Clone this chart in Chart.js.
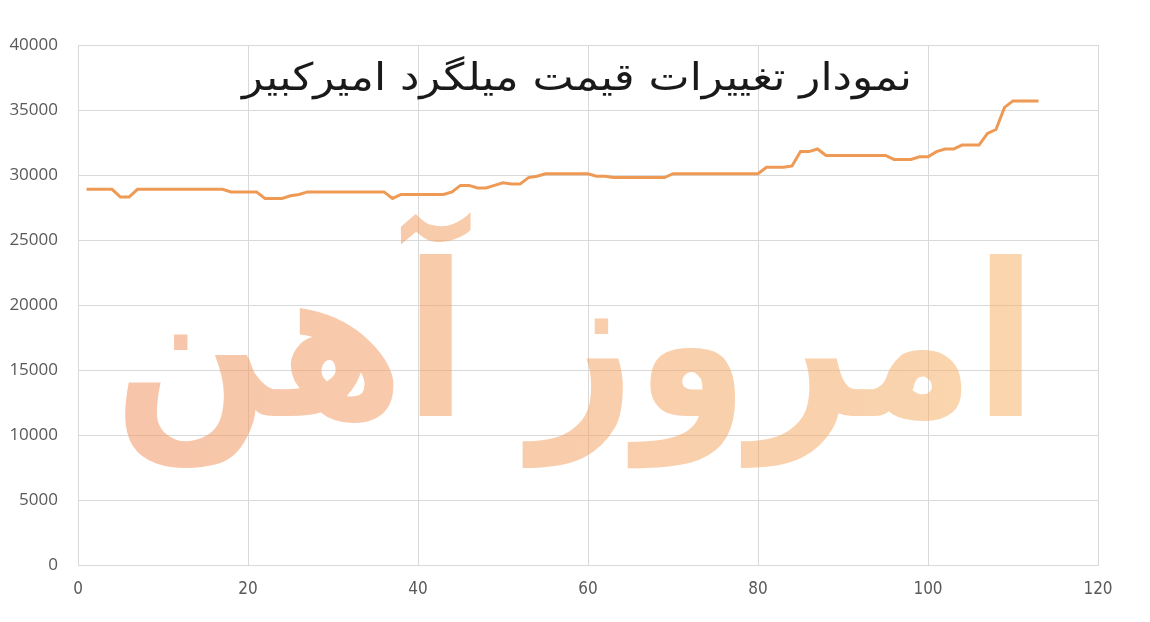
<!DOCTYPE html>
<html>
<head>
<meta charset="utf-8">
<script src="https://cdn.jsdelivr.net/npm/chart.js@4/dist/chart.umd.min.js"></script>
<style>
  body { margin: 0; background: #ffffff; }
  #wrap { width: 1150px; height: 622px; }
</style>
</head>
<body>
<div id="wrap"><canvas id="canvas" width="1150" height="622"></canvas></div>
<script>
// chart title and watermark text
var chartTitle = "نمودار تغییرات قیمت میلگرد امیرکبیر";
var watermarkText = "امروز آهن";

// day number (x axis)
var days = [
  1, 2, 3, 4, 5, 6, 7, 8, 9, 10,
  11, 12, 13, 14, 15, 16, 17, 18, 19, 20,
  21, 22, 23, 24, 25, 26, 27, 28, 29, 30,
  31, 32, 33, 34, 35, 36, 37, 38, 39, 40,
  41, 42, 43, 44, 45, 46, 47, 48, 49, 50,
  51, 52, 53, 54, 55, 56, 57, 58, 59, 60,
  61, 62, 63, 64, 65, 66, 67, 68, 69, 70,
  71, 72, 73, 74, 75, 76, 77, 78, 79, 80,
  81, 82, 83, 84, 85, 86, 87, 88, 89, 90,
  91, 92, 93, 94, 95, 96, 97, 98, 99, 100,
  101, 102, 103, 104, 105, 106, 107, 108, 109, 110,
  111, 112, 113
];

// price
var prices = [
  28900, 28900, 28900, 28900, 28300, 28300, 28900, 28900, 28900, 28900,
  28900, 28900, 28900, 28900, 28900, 28900, 28900, 28700, 28700, 28700,
  28700, 28200, 28200, 28200, 28400, 28500, 28700, 28700, 28700, 28700,
  28700, 28700, 28700, 28700, 28700, 28700, 28200, 28500, 28500, 28500,
  28500, 28500, 28500, 28700, 29200, 29200, 29000, 29000, 29200, 29400,
  29300, 29300, 29800, 29900, 30100, 30100, 30100, 30100, 30100, 30100,
  29900, 29900, 29800, 29800, 29800, 29800, 29800, 29800, 29800, 30100,
  30100, 30100, 30100, 30100, 30100, 30100, 30100, 30100, 30100, 30100,
  30600, 30600, 30600, 30700, 31800, 31800, 32000, 31500, 31500, 31500,
  31500, 31500, 31500, 31500, 31500, 31200, 31200, 31200, 31400, 31400,
  31800, 32000, 32000, 32300, 32300, 32300, 33200, 33500, 35200, 35700,
  35700, 35700, 35700
];

// axis ranges
var xTicks = { min: 0, max: 120, step: 20 };
var yTicks = { min: 0, max: 40000, step: 5000 };

var points = [];
for (var i = 0; i < days.length; i++) {
  points.push({ x: days[i], y: prices[i] });
}

/* draws the logo text behind the line, over the grid.
   drawn opaque on its own canvas first so joined letters don't overlap darker */
var watermarkPlugin = {
  id: "watermark",
  beforeDatasetsDraw: function(chart) {
    var off = document.createElement("canvas");
    off.width = chart.width;
    off.height = chart.height;
    var octx = off.getContext("2d");
    octx.font = 'bold 200px "DejaVu Sans"';
    octx.textAlign = "center";
    octx.textBaseline = "alphabetic";
    var m = octx.measureText(watermarkText);
    var L = m.actualBoundingBoxLeft, R = m.actualBoundingBoxRight;
    var A = m.actualBoundingBoxAscent, D = m.actualBoundingBoxDescent;
    var w = L + R, h = A + D;
    // box the logo sits in
    var bx = 125, by = 212, bw = 897, bh = 256;
    octx.translate(bx + bw / 2, by + bh / 2);
    octx.scale(bw / w, bh / h);
    var grad = octx.createLinearGradient(-w / 2, 0, w / 2, 0);
    grad.addColorStop(0, "rgb(241,150,100)");
    grad.addColorStop(1, "rgb(246,180,108)");
    octx.fillStyle = grad;
    octx.fillText(watermarkText, (L - R) / 2, (A - D) / 2);

    var ctx = chart.ctx;
    ctx.save();
    ctx.globalAlpha = 0.55;
    ctx.drawImage(off, 0, 0, chart.width, chart.height);
    ctx.restore();
  }
};

/* title sits inside the plot area */
var titlePlugin = {
  id: "innerTitle",
  afterDatasetsDraw: function(chart) {
    var ctx = chart.ctx;
    ctx.save();
    ctx.font = '38px "DejaVu Sans"';
    ctx.textAlign = "center";
    ctx.textBaseline = "middle";
    ctx.fillStyle = "#1a1a1a";
    var m = ctx.measureText(chartTitle);
    var sx = 670 / m.width;
    ctx.translate(577, 80);
    ctx.scale(sx, 1);
    ctx.fillText(chartTitle, 0, 0);
    ctx.restore();
  }
};

var ctx2d = document.getElementById("canvas").getContext("2d");

var myChart = new Chart(ctx2d, {
  type: "line",
  data: {
    datasets: [{
      data: points,
      borderColor: "#EE9A55",
      borderWidth: 3,
      pointRadius: 0,
      fill: false,
      tension: 0
    }]
  },
  options: {
    responsive: false,
    animation: false,
    layout: { padding: { left: 0, right: 52, top: 45, bottom: 0 } },
    plugins: {
      legend: { display: false },
      tooltip: { enabled: false }
    },
    scales: {
      x: {
        type: "linear",
        min: xTicks.min,
        max: xTicks.max,
        ticks: {
          stepSize: xTicks.step,
          padding: 14,
          color: "#595959",
          font: { family: '"Liberation Sans Narrow", "DejaVu Sans Condensed", sans-serif', size: 17 }
        },
        grid: { color: "#d9d9d9", lineWidth: 1, drawTicks: false },
        border: { color: "#d9d9d9" },
        afterFit: function(scale) { scale.height = 57; }
      },
      y: {
        min: yTicks.min,
        max: yTicks.max,
        ticks: {
          stepSize: yTicks.step,
          padding: 20,
          color: "#595959",
          font: { family: '"Open Sans", sans-serif', size: 17 },
          callback: function(v) { return String(v); }
        },
        grid: { color: "#d9d9d9", lineWidth: 1, drawTicks: false },
        border: { color: "#d9d9d9" },
        afterFit: function(scale) { scale.width = 78; }
      }
    }
  },
  plugins: [watermarkPlugin, titlePlugin]
});
</script>
</body>
</html>
